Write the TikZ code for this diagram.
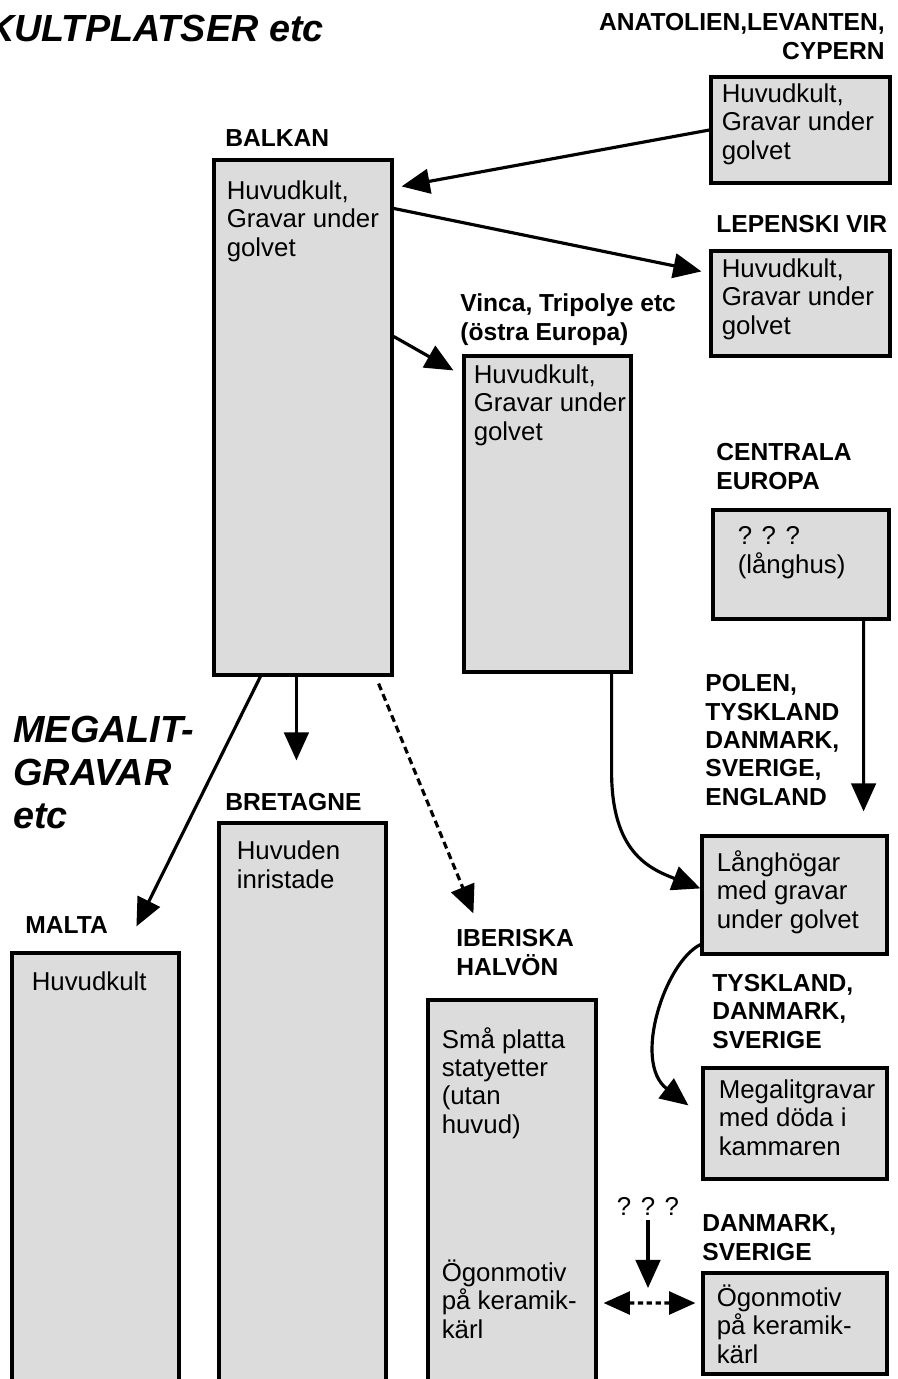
\documentclass[tikz,border=0pt]{standalone}
\usepackage{fontspec}
\setmainfont{Liberation Sans}
\usetikzlibrary{arrows.meta,fit,positioning}
\definecolor{boxgray}{HTML}{DCDCDC}

\begin{document}
\begin{tikzpicture}[x=0.02cm,y=-0.02cm,
    box/.style={draw,line width=1.8pt,fill=boxgray,inner sep=0pt},
    boxtext/.style={anchor=base west,align=left,inner sep=0pt,font=\fontsize{14.7}{16.2}\selectfont},
    region/.style={anchor=base west,align=left,inner sep=0pt,font=\fontsize{14}{16.1}\selectfont\bfseries},
    rubrik/.style={align=left,inner sep=0pt,font=\fontsize{21.5}{24.2}\selectfont\bfseries\itshape},
    pil/.style={line width=1.8pt,-{Triangle[length=16pt,width=14pt]}},
    streckpil/.style={pil,dash pattern=on 4pt off 2.5pt},
    dubbelpil/.style={line width=1.8pt,{Triangle[length=15pt,width=13pt]}-{Triangle[length=15pt,width=13pt]},dash pattern=on 3pt off 2pt}]
    \useasboundingbox (0,0) rectangle (897,1379);

    % rubriker (base = sista raden)
    \node[rubrik,anchor=base east] (kult) at (324,41) {KULTPLATSER etc};
    \node[rubrik,anchor=base west] (mega) at (13,828) {MEGALIT-\\GRAVAR\\etc};

    % Anatolien
    \node[region,anchor=base east,align=right] (anatlbl) at (885,59) {ANATOLIEN,LEVANTEN,\\CYPERN};
    \node[box,fit={(711,77) (890,183)}] (anatolien) {};
    \node[boxtext] (anattxt) at ([shift={(12,84)}]anatolien.north west) {Huvudkult,\\Gravar under\\golvet};

    % Balkan
    \node[region] (balklbl) at (225,146) {BALKAN};
    \node[box,fit={(214,160) (392,675)}] (balkan) {};
    \node[boxtext] (balktxt) at ([shift={(14,98)}]balkan.north west) {Huvudkult,\\Gravar under\\golvet};

    % Lepenski Vir
    \node[region] (leplbl) at (716,232) {LEPENSKI VIR};
    \node[box,fit={(711,251) (890,356)}] (lepenski) {};
    \node[boxtext] (leptxt) at ([shift={(12,85)}]lepenski.north west) {Huvudkult,\\Gravar under\\golvet};

    % Vinca
    \node[region] (vinclbl) at (460,340) {Vinca, Tripolye etc\\(östra Europa)};
    \node[box,fit={(464,356) (631,672)}] (vinca) {};
    \node[boxtext] (vinctxt) at ([shift={(11,86)}]vinca.north west) {Huvudkult,\\Gravar under\\golvet};

    % Centrala Europa
    \node[region] (centlbl) at (716,489) {CENTRALA\\EUROPA};
    \node[box,fit={(713,510) (889,619)}] (centrala) {};
    \node[boxtext] (centtxt) at ([shift={(26,65)}]centrala.north west) {? ? ?\\(långhus)};

    % Långhögar
    \node[region] (polelbl) at (705,805) {POLEN,\\TYSKLAND\\DANMARK,\\SVERIGE,\\ENGLAND};
    \node[box,fit={(702,836) (887,954)}] (langhog) {};
    \node[boxtext] (langtxt) at ([shift={(16,94)}]langhog.north west) {Långhögar\\med gravar\\under golvet};

    % Megalitgravar
    \node[region] (tysklbl) at (712,1048) {TYSKLAND,\\DANMARK,\\SVERIGE};
    \node[box,fit={(703,1068) (887,1179)}] (megalit) {};
    \node[boxtext] (megatxt) at ([shift={(17,89)}]megalit.north west) {Megalitgravar\\med döda i\\kammaren};

    % Danmark, Sverige
    \node[region] (danlbl) at (702,1260) {DANMARK,\\SVERIGE};
    \node[box,fit={(703,1273) (887,1374)}] (danmark) {};
    \node[boxtext] (dantxt) at ([shift={(15,92)}]danmark.north west) {Ögonmotiv\\på keramik-\\kärl};

    % Malta
    \node[region] (maltlbl) at (25,933) {MALTA};
    \node[box,fit={(12,953) (179,1400)}] (malta) {};
    \node[boxtext] (malttxt) at ([shift={(21,39)}]malta.north west) {Huvudkult};

    % Bretagne
    \node[region] (bretlbl) at (225,810) {BRETAGNE};
    \node[box,fit={(219,823) (386,1400)}] (bretagne) {};
    \node[boxtext] (brettxt) at ([shift={(19,67)}]bretagne.north west) {Huvuden\\inristade};

    % Iberiska halvön
    \node[region] (iberlbl) at (456,975) {IBERISKA\\HALVÖN};
    \node[box,fit={(428,1000) (596,1400)}] (iberiska) {};
    \node[boxtext] (ibertxt) at ([shift={(15,135)}]iberiska.north west) {Små platta\\statyetter\\(utan\\huvud)};
    \node[boxtext] (iberogon) at ([shift={(15,340)}]iberiska.north west) {Ögonmotiv\\på keramik-\\kärl};

    % pilar
    \draw[pil] (anatolien.west) -- ([shift={(8,28)}]balkan.north east);
    \draw[pil] ([shift={(0,50)}]balkan.north east) -- ([shift={(-8,22)}]lepenski.north west);
    \draw[pil] ([shift={(0,178)}]balkan.north east) -- ([shift={(-9,16)}]vinca.north west);
    \draw[pil] ([shift={(48,0)}]balkan.south west) -- ([shift={(126,-25)}]malta.north west);
    \draw[pil] ([shift={(84,0)}]balkan.south west) -- ([shift={(79,-61)}]bretagne.north west);
    \draw[streckpil] ([shift={(-15,7)}]balkan.south east) -- ([shift={(47,-85)}]iberiska.north west);
    \draw[pil] ([shift={(-21,0)}]vinca.south east) -- ++(0,98)
        .. controls ++(0,80) and ([shift={(-52,34)}]langhog.north west) .. ([shift={(0,54)}]langhog.north west);
    \draw[pil] ([shift={(-27,0)}]centrala.south east) -- ([shift={(-25,-23)}]langhog.north east);
    \draw[pil] ([shift={(0,-11)}]langhog.south west)
        .. controls (665,962) and (632,1062) .. ([shift={(-13,39)}]megalit.north west);

    % frågetecken
    \node[boxtext,anchor=base] (fraga) at (648,1215) {? ? ?};
    \coordinate (treff) at (648,1288);
    \draw[pil] ([shift={(0,5)}]fraga.south) -- (treff);
    \draw[dubbelpil] ([shift={(6,103)}]iberiska.east) -- ([shift={(-6,-20.5)}]danmark.west);
\end{tikzpicture}
\end{document}
